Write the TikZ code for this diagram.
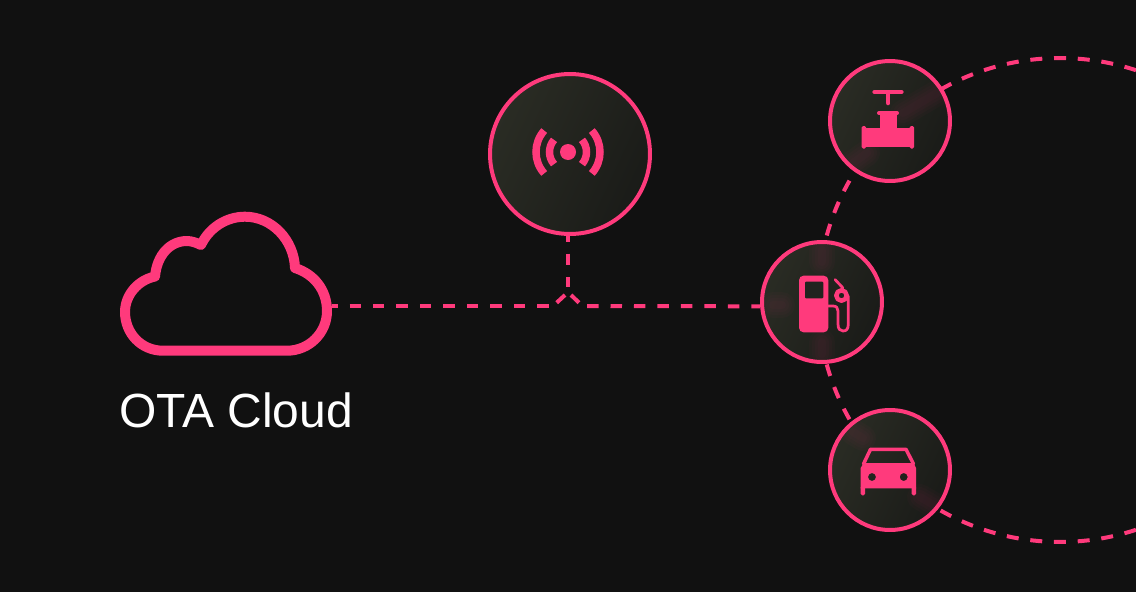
\documentclass[tikz,border=0pt]{standalone}
\usepackage{fontspec}
\setmainfont{Liberation Sans}
\usepackage{xcolor}
\usepackage{tikz}
\usetikzlibrary{
    arrows.meta,
    positioning,
    calc
}
\definecolor{pagebg}{HTML}{111111}
\definecolor{hotpink}{HTML}{FF3A7C}
\definecolor{discbright}{HTML}{2A2C24}
\definecolor{discdark}{HTML}{1A1B18}
\definecolor{iconhole}{HTML}{22231F}
\tikzset{
    device/.style={
        circle, draw=hotpink, line width=0.08cm,
        left color=discbright, right color=discdark, shading angle=65,
        inner sep=0pt, minimum size=#1
    },
    device/.default={2.4cm},
    ring path/.style={
        circle, draw=hotpink, line width=0.08cm, inner sep=0pt,
        minimum size=9.68cm, dash pattern=on 0.24cm off 0.2352cm, dash phase=0.12cm
    },
    data flow/.style={
        draw=hotpink, line width=0.08cm, dash pattern=on 0.23cm off 0.24cm
    },
    icon line/.style={
        draw=hotpink, line width=#1, line cap=round, line join=round
    },
    icon line/.default={0.055cm},
    icon fill/.style={
        fill=hotpink, rounded corners=0.03cm
    },
    cloud line/.style={
        draw=hotpink, line width=0.2cm, line join=round
    },
    caption/.style={
        text=white, font=\fontsize{27.3}{30}\selectfont, anchor=base west, inner sep=0pt
    },
}
\newcommand{\glowbit}[2]{
    \foreach \w in {0.52,0.4,0.28,0.16} {
        \draw[hotpink, opacity=0.024, line width=\w cm, line cap=round] #1 -- #2;
    }
}
\begin{document}
\begin{tikzpicture}[x=0.02cm, y=-0.02cm]
    \path[use as bounding box, clip] (0,0) rectangle (1136,592);
    \fill[pagebg] (0,0) rectangle (1136,592);

    \node[ring path] (ring) at (1060,300) {};

    \node[device=3.2cm] (tower) at (570,154) {};
    \node[device] (valve) at (890,121) {};
    \node[device] (pump) at (822,302) {};
    \node[device] (car) at (890,470) {};

    % Glow where the ring passes under the discs
    \begin{scope}
        \clip (valve) circle[radius=58];
        \glowbit{(853,163)}{(867,153)}
        \glowbit{(903,113)}{(937,93)}
    \end{scope}
    \begin{scope}
        \clip (pump) circle[radius=58];
        \glowbit{(822,250)}{(822,262)}
        \glowbit{(822,342)}{(822,354)}
        \glowbit{(773,305)}{(782,305)}
    \end{scope}
    \begin{scope}
        \clip (car) circle[radius=58];
        \glowbit{(853,432)}{(863,438)}
        \glowbit{(920,497)}{(937,507)}
    \end{scope}

    % Cloud
    \draw[cloud line] (163,350.7)
        .. controls (141,350.7) and (125,333) .. (125,312)
        .. controls (125,295) and (138,280) .. (155,276.5)
        .. controls (157,255) and (170,241) .. (187,241)
        .. controls (192,241) and (197,243) .. (201,245)
        .. controls (209,228) and (226,216.7) .. (245,216.7)
        .. controls (272,216.7) and (294,240) .. (295,268)
        .. controls (314,274) and (327,290) .. (327,311)
        .. controls (327,333) and (309,350.7) .. (287,350.7) -- cycle;
    \node[caption] (otalabel) at (119,427.7) {OTA Cloud};

    \coordinate (cloudport) at (332,306);
    \coordinate (joinleft) at (549,306);
    \coordinate (joinright) at (587,306);
    \coordinate (joinup) at (568,287);
    \coordinate (bitlefta) at (556.7,302.7);
    \coordinate (bitleftb) at (565,295);
    \coordinate (bitrighta) at (571,295);
    \coordinate (bitrightb) at (579,302.7);

    \draw[data flow, dash phase=0.12cm] (cloudport) -- (joinleft);
    \draw[data flow, dash phase=0.116cm] (tower.south -| joinup) -- (joinup);
    \draw[data flow] (joinright) -- (pump.184);
    \draw[data flow] (bitlefta) -- (bitleftb);
    \draw[data flow] (bitrighta) -- (bitrightb);

    % Tower icon
    \fill[hotpink] (568,152) circle[radius=8];
    \foreach \r/\a in {18.5/41, 32/42} {
        \draw[hotpink, line width=0.15cm] (568,152) ++(180-\a:\r) arc[start angle=180-\a, end angle=180+\a, radius=\r];
        \draw[hotpink, line width=0.15cm] (568,152) ++(-\a:\r) arc[start angle=-\a, end angle=\a, radius=\r];
    }

    % Valve icon
    \draw[icon line=0.085cm] (874.5,92) -- (901.5,92);
    \draw[icon line=0.09cm] (888.2,94) -- (888.2,103);
    \draw[icon line=0.08cm] (879,113) -- (897,113);
    \fill[hotpink] (880,113) rectangle (897.3,128);
    \fill[hotpink] (862,127.5) rectangle (914,147);
    \fill[icon fill] (861.5,126) rectangle (866,148.5);
    \fill[icon fill] (909.5,126) rectangle (914,148.5);

    % Pump icon
    \fill[hotpink, rounded corners=0.09cm] (799,275.7) rectangle (828.3,332.3);
    \fill[iconhole, rounded corners=0.02cm] (805,281.7) rectangle (823.3,298.3);
    \draw[icon line] (828,306) -- (833,306)
        .. controls (836.5,306) and (838,308) .. (838,311)
        -- (838,324)
        .. controls (838,329) and (840,331) .. (843,331)
        .. controls (846.5,331) and (848.3,329) .. (848.3,324)
        -- (848.3,296);
    \draw[icon line] (835,279.5) -- (843,288);
    \draw[icon line=0.09cm] (841.5,295.5) circle[radius=5.2];

    % Car icon
    \draw[icon line=0.07cm] (863.5,464) -- (870.5,449.3) -- (906,449.3) -- (913.5,464);
    \fill[hotpink, even odd rule] (860.7,468) -- (863.5,463) -- (913.5,463) -- (916,468) -- (916,488.3) -- (860.7,488.3) -- cycle
        (872,477) circle[radius=4] (903.7,477) circle[radius=4];
    \fill[icon fill] (860.7,486) rectangle (865,495.3);
    \fill[icon fill] (911.7,486) rectangle (916,495.3);
\end{tikzpicture}
\end{document}
